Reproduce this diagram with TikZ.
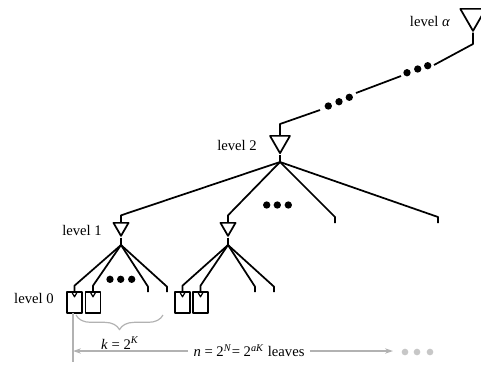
\documentclass[tikz,border=0pt]{standalone}
\usepackage{fontspec}
\setmainfont{Liberation Serif}
\usetikzlibrary{shapes.geometric}
\usetikzlibrary{decorations.pathreplacing}
\usetikzlibrary{arrows.meta}
\tikzset{
    tri/.style = {regular polygon, regular polygon sides=3, shape border rotate=180, draw=black, line width=1.3pt, inner sep=0pt, anchor=north},
    leafbox/.style = {rectangle, draw=black, line width=1.2pt, minimum width=11.25pt, minimum height=15.75pt, inner sep=0pt, anchor=north},
    bdot/.style = {circle, fill=black, inner sep=0pt, minimum size=5.5pt},
    gdot/.style = {circle, fill=black!22, inner sep=0pt, minimum size=5pt},
    lbl/.style = {font=\fontsize{11}{13}\selectfont},
}
\begin{document}
\begin{tikzpicture}[x=0.75pt, y=-0.75pt, line width=1.3pt, line join=round]
\useasboundingbox (0,0) rectangle (481,365);
\tikzset{
    edgen/.style = {-,black},
    edgeg/.style = {-,black!30,line width=0.9pt},
    arrg/.style = {edgeg,-{Stealth[length=6pt,width=4pt]}},
}
% triangles
\node[tri, minimum size=22pt] at (473,8) (ta) {};
\node[tri, minimum size=17.3pt] at (280,135) (t2) {};
\node[tri, minimum size=13pt] at (121,222) (t1a) {};
\node[tri, minimum size=13pt] at (228,222) (t1b) {};
% leaves
\node[leafbox] at (74.5,291) (l1) {};
\node[leafbox] at (93,291) (l2) {};
\node[leafbox] at (182.5,291) (l3) {};
\node[leafbox] at (200.5,291) (l4) {};
\foreach \n in {l1,l2,l3,l4}
    \node[tri, minimum size=5.2pt, line width=0.9pt] at (\n.north) (\n t) {};
% labels
\node[lbl] at (430,21) (la) {level \textit{α}};
\node[lbl] at (237,145) (lb) {level 2};
\node[lbl] at (82,230) (lc) {level 1};
\node[lbl] at (34,298) (ld) {level 0};
%
\coordinate (sa) at (473,44);
\coordinate (pa1) at (434,65);
\coordinate (pa2) at (401,76);
\coordinate (pa3) at (356,93);
\coordinate (pa4) at (320,110);
\coordinate (s2) at (280,124);
\coordinate (j2) at (280,162);
\coordinate (j1a) at (121,245);
\coordinate (j1b) at (228,245);
\coordinate (e1) at (335,223);
\coordinate (e2) at (438,223);
\coordinate (e3) at (148,292);
\coordinate (e4) at (167,292);
\coordinate (e5) at (255,292);
\coordinate (e6) at (274,292);
%
\draw[edgen] (ta.south) -- (sa) -- (pa1);
\draw[edgen] (pa2) -- (pa3);
\draw[edgen] (pa4) -- (s2) -- (t2.north);
\draw[edgen] (t2.south) -- (j2);
\draw[edgen] (j2) -- ([yshift=5pt]t1a.north) -- (t1a.north);
\draw[edgen] (j2) -- ([yshift=5pt]t1b.north) -- (t1b.north);
\draw[edgen] (j2) -- ([yshift=4.5pt]e1) -- (e1);
\draw[edgen] (j2) -- ([yshift=4.5pt]e2) -- (e2);
%
\draw[edgen] (t1a.south) -- (j1a);
\draw[edgen] (j1a) -- ([yshift=4pt]l1.north) -- (l1.north);
\draw[edgen] (j1a) -- ([yshift=4pt]l2.north) -- (l2.north);
\draw[edgen] (j1a) -- ([yshift=4pt]e3) -- (e3);
\draw[edgen] (j1a) -- ([yshift=4pt]e4) -- (e4);
%
\draw[edgen] (t1b.south) -- (j1b);
\draw[edgen] (j1b) -- ([yshift=4pt]l3.north) -- (l3.north);
\draw[edgen] (j1b) -- ([yshift=4pt]l4.north) -- (l4.north);
\draw[edgen] (j1b) -- ([yshift=4pt]e5) -- (e5);
\draw[edgen] (j1b) -- ([yshift=4pt]e6) -- (e6);
% dots
\foreach \x/\y in {407/72.7, 417.7/69, 427.7/65.7,
                   328.3/106, 339/101.7, 349.3/97.3,
                   266.7/205, 277.3/205, 288.3/205,
                   110/279.3, 120.7/279.3, 131.7/279.3}
    \node[bdot] at (\x,\y) {};
\foreach \x in {405,417,430}
    \node[gdot] at (\x,352) {};
% counting
\coordinate (bl) at (76,315);
\coordinate (br) at (163,315);
\draw[edgeg, decorate, decoration={brace, mirror, amplitude=11pt}] (bl) -- (br);
\node[lbl] at (120,343) (kl) {\textit{k} = 2\textsuperscript{\textit{K}}};
\coordinate (v1) at (73,313);
\coordinate (v2) at (73,362);
\draw[edgeg] (v1) -- (v2);
\node[lbl] at (249,351) (nl) {\textit{n} = 2\textsuperscript{\textit{N}}= 2\textsuperscript{\textit{aK}} leaves};
\coordinate (ar) at (393,351);
\draw[arrg] (nl.west) -- (nl.west -| v1);
\draw[arrg] (nl.east) -- (ar);
\end{tikzpicture}
\end{document}
